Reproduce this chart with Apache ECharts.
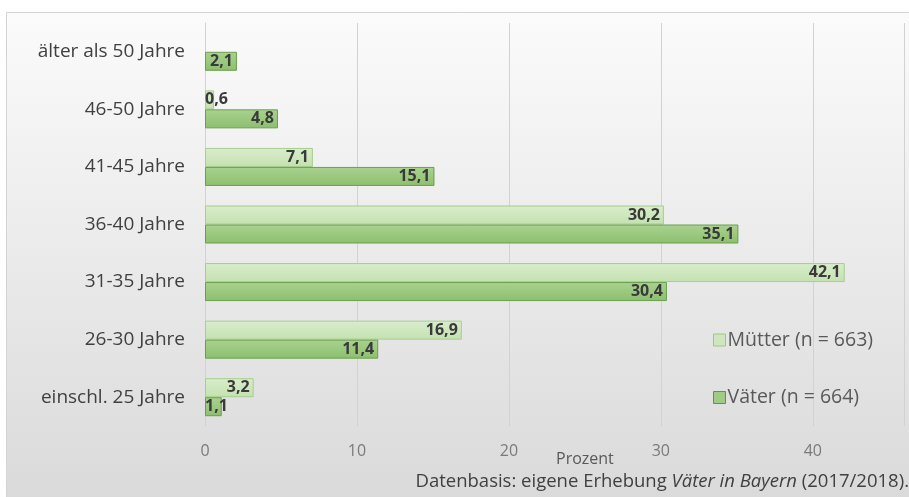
<!DOCTYPE html>
<html>
<head>
<meta charset="utf-8">
<script src="https://cdn.jsdelivr.net/npm/echarts@6/dist/echarts.min.js"></script>
<style>
  html, body { margin: 0; padding: 0; background: #ffffff; }
  #chart { width: 909px; height: 497px; }
</style>
</head>
<body>
<div id="chart"></div>
<script>
// Altersgruppen (von unten nach oben)
const categories = ['einschl. 25 Jahre', '26-30 Jahre', '31-35 Jahre', '36-40 Jahre', '41-45 Jahre', '46-50 Jahre', 'älter als 50 Jahre'];
// Anteile in Prozent
const muetter = [3.2, 16.9, 42.1, 30.2, 7.1, 0.6, null];
const vaeter = [1.1, 11.4, 30.4, 35.1, 15.1, 4.8, 2.1];
const xTicks = [0, 10, 20, 30, 40];
const seriesNames = ['Mütter (n = 663)', 'Väter (n = 664)'];

const FONT = '"Open Sans", sans-serif';
const fmt = v => v.toFixed(1).replace('.', ',');

function grad(top, bottom) {
  return new echarts.graphic.LinearGradient(0, 0, 0, 1, [
    { offset: 0, color: top }, { offset: 1, color: bottom }
  ]);
}

// kleine Balken: Beschriftung linksbündig am Balkenanfang
function withLabels(values) {
  return values.map(v => {
    if (v === null) return null;
    const item = { value: v };
    if (v < 1.5) item.label = { position: 'insideLeft', offset: [-4, 0] };
    return item;
  });
}

const labelStyle = {
  show: true,
  position: 'insideRight',
  distance: 4,
  fontFamily: FONT,
  fontWeight: 'bold',
  fontSize: 16,
  color: '#3a3a3a',
  formatter: p => fmt(p.value)
};

const chart = echarts.init(document.getElementById('chart'));
chart.setOption({
  animation: false,
  textStyle: { fontFamily: FONT },
  graphic: [
    {
      type: 'rect', z: -10, silent: true,
      shape: { x: 6.5, y: 12.5, width: 920, height: 500 },
      style: {
        fill: new echarts.graphic.LinearGradient(0, 0, 0, 1, [
          { offset: 0, color: '#fbfbfb' }, { offset: 1, color: '#d9d9d9' }
        ]),
        stroke: '#d4d4d4', lineWidth: 1
      }
    },
    {
      type: 'text', left: 556, top: 451,
      style: { text: 'Prozent', fontFamily: FONT, fontSize: 16, fill: '#595959' }
    },
    {
      type: 'text', right: 0, top: 472,
      style: {
        text: 'Datenbasis: eigene Erhebung {i|Väter in Bayern} (2017/2018).',
        fontFamily: FONT, fontSize: 18.5, fill: '#404040',
        rich: { i: { fontStyle: 'italic', fontFamily: FONT, fontSize: 18.5, fill: '#404040' } }
      }
    }
  ],
  grid: { left: 205, right: 5, top: 23, bottom: 71, containLabel: false },
  legend: {
    orient: 'vertical',
    left: 708, top: 325,
    itemGap: 37.5,
    itemWidth: 12, itemHeight: 12,
    icon: 'rect',
    textStyle: { fontFamily: FONT, fontSize: 19.5, color: '#595959', padding: [0, 0, 0, -3] },
    data: [
      { name: seriesNames[0], itemStyle: { color: '#cfe6bf', borderColor: '#9cc883', borderWidth: 1 } },
      { name: seriesNames[1], itemStyle: { color: '#9fcb84', borderColor: '#5e9640', borderWidth: 1 } }
    ]
  },
  xAxis: {
    type: 'value', min: 0, max: 46, interval: 10,
    axisLine: { show: false }, axisTick: { show: false },
    splitLine: { lineStyle: { color: '#d2d2d2', width: 1 } },
    axisLabel: {
      fontFamily: FONT, fontSize: 16, color: '#7a7a7a', margin: 17,
      formatter: v => (xTicks.indexOf(v) >= 0 ? String(v) : '')
    }
  },
  yAxis: {
    type: 'category', data: categories,
    axisLine: { show: true, lineStyle: { color: '#d2d2d2' } },
    axisTick: { show: false },
    axisLabel: { fontFamily: FONT, fontSize: 19, color: '#404040', margin: 20 }
  },
  series: [
    {
      name: seriesNames[0], type: 'bar', data: withLabels(muetter),
      barWidth: 19, barGap: '0%',
      itemStyle: { color: grad('#d9edcc', '#c4e1b0'), borderColor: '#a5cf8c', borderWidth: 1 },
      label: labelStyle
    },
    {
      name: seriesNames[1], type: 'bar', data: withLabels(vaeter),
      barWidth: 19, barGap: '0%',
      itemStyle: { color: grad('#a9d290', '#8dbf6e'), borderColor: '#6a9f4c', borderWidth: 1 },
      label: labelStyle
    }
  ]
});
</script>
</body>
</html>
